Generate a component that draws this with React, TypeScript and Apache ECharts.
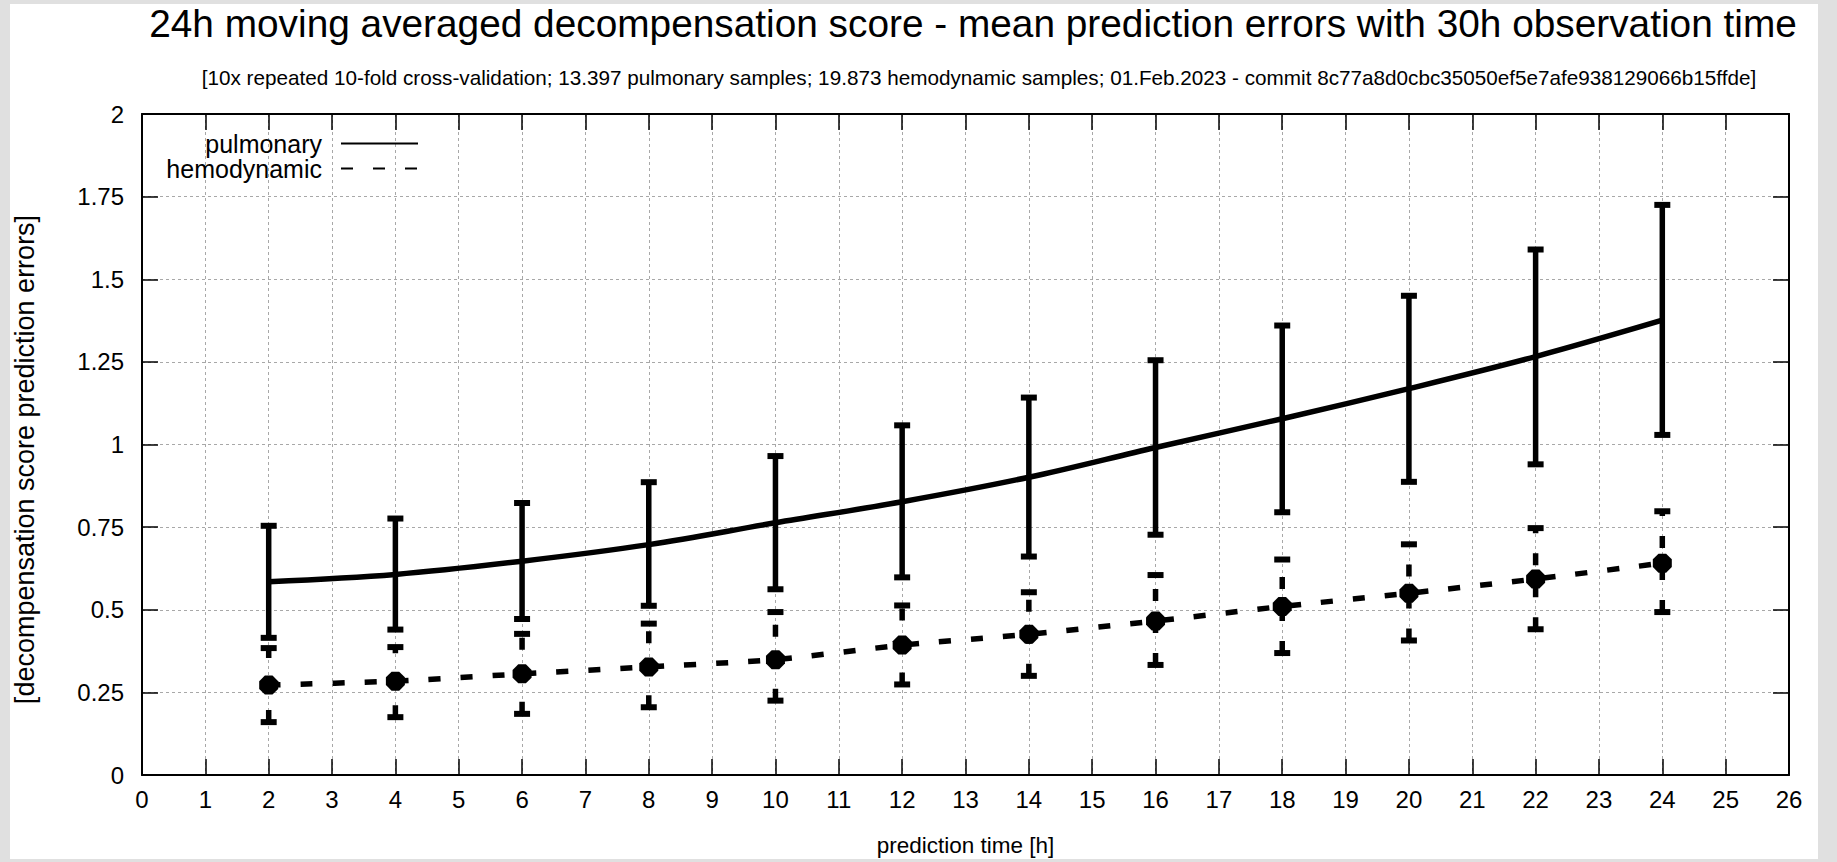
import React, { useEffect, useRef } from "react";
import * as echarts from "echarts";

const titleText =
  "24h moving averaged decompensation score - mean prediction errors with 30h observation time";
const subtitleText =
  "[10x repeated 10-fold cross-validation; 13.397 pulmonary samples; 19.873 hemodynamic samples; 01.Feb.2023 - commit 8c77a8d0cbc35050ef5e7afe938129066b15ffde]";
const xAxisName = "prediction time [h]";
const yAxisName = "[decompensation score prediction errors]";
const seriesNames = ["pulmonary", "hemodynamic"];

const hours = [2, 4, 6, 8, 10, 12, 14, 16, 18, 20, 22, 24];
const pulmonaryMean = [0.585, 0.607, 0.647, 0.697, 0.763, 0.827, 0.901, 0.991, 1.078, 1.169, 1.266, 1.376];
const pulmonaryLow = [0.415, 0.44, 0.472, 0.512, 0.562, 0.598, 0.661, 0.727, 0.795, 0.887, 0.94, 1.029];
const pulmonaryHigh = [0.754, 0.776, 0.823, 0.886, 0.965, 1.058, 1.142, 1.255, 1.36, 1.45, 1.59, 1.725];
const hemoMean = [0.272, 0.284, 0.306, 0.327, 0.349, 0.393, 0.426, 0.466, 0.51, 0.55, 0.593, 0.641];
const hemoLow = [0.16, 0.175, 0.185, 0.205, 0.225, 0.274, 0.3, 0.333, 0.369, 0.407, 0.441, 0.493];
const hemoHigh = [0.384, 0.387, 0.427, 0.458, 0.493, 0.513, 0.553, 0.605, 0.652, 0.698, 0.747, 0.798];

const FONT = "'Liberation Sans', Arial, Helvetica, sans-serif";
const DASH = [12, 20];

function errorBars(dashed: boolean) {
  return (params: any, api: any) => {
    const x = api.value(0);
    const lo = api.coord([x, api.value(1)]);
    const hi = api.coord([x, api.value(2)]);
    const hw = 8;
    const capStyle = { stroke: "#000", lineWidth: 6, fill: null };
    return {
      type: "group",
      children: [
        {
          type: "line",
          shape: { x1: lo[0], y1: lo[1], x2: hi[0], y2: hi[1] },
          style: { stroke: "#000", lineWidth: 5.5, fill: null, lineDash: dashed ? DASH : null },
        },
        { type: "line", shape: { x1: lo[0] - hw, y1: lo[1], x2: lo[0] + hw, y2: lo[1] }, style: capStyle },
        { type: "line", shape: { x1: hi[0] - hw, y1: hi[1], x2: hi[0] + hw, y2: hi[1] }, style: capStyle },
      ],
    };
  };
}

export default function App() {
  const ref = useRef<HTMLDivElement>(null);
  useEffect(() => {
    if (!ref.current) return;
    const chart = echarts.init(ref.current, null, { renderer: "svg" });
    const gridLine = { show: true, lineStyle: { color: "#a8a8a8", width: 1, type: [3, 3] } };
    const axisLine = { show: true, onZero: false, lineStyle: { color: "#000", width: 2 } };
    const tick = { show: true, inside: true, length: 16, lineStyle: { color: "#000", width: 1.5 } };
    chart.setOption({
      animation: false,
      backgroundColor: "#ffffff",
      textStyle: { fontFamily: FONT },
      grid: { left: 142, right: 48, top: 114, bottom: 78, containLabel: false },
      graphic: [
        { type: "rect", shape: { x: 0, y: 0, width: 10, height: 862 }, style: { fill: "#e0e0e0" }, silent: true },
        { type: "rect", shape: { x: 1818, y: 0, width: 19, height: 862 }, style: { fill: "#e0e0e0" }, silent: true },
        { type: "rect", shape: { x: 0, y: 0, width: 1837, height: 4 }, style: { fill: "#e0e0e0" }, silent: true },
        { type: "rect", shape: { x: 0, y: 859, width: 1837, height: 3 }, style: { fill: "#e0e0e0" }, silent: true },
        {
          type: "text",
          x: 973,
          y: 23,
          style: { text: titleText, fontFamily: FONT, fontSize: 38.8, fill: "#000", align: "center", verticalAlign: "middle" },
        },
        {
          type: "text",
          x: 979,
          y: 77,
          style: { text: subtitleText, fontFamily: FONT, fontSize: 20.7, fill: "#000", align: "center", verticalAlign: "middle" },
        },
      ],
      legend: {
        data: seriesNames,
        orient: "vertical",
        align: "right",
        right: 1837 - 419,
        top: 131,
        padding: 0,
        itemGap: 0,
        itemWidth: 77,
        itemHeight: 6,
        itemStyle: { opacity: 0 },
        textStyle: { fontFamily: FONT, fontSize: 25, color: "#000", padding: [0, 14, 0, 0] },
        selectedMode: false,
      },
      xAxis: [
        {
          type: "value",
          min: 0,
          max: 26,
          interval: 1,
          position: "bottom",
          name: xAxisName,
          nameLocation: "middle",
          nameGap: 59,
          nameTextStyle: { fontFamily: FONT, fontSize: 22.5, color: "#000" },
          axisLine,
          axisTick: tick,
          axisLabel: { fontFamily: FONT, fontSize: 24, color: "#000", margin: 12 },
          splitLine: gridLine,
        },
        {
          type: "value",
          min: 0,
          max: 26,
          interval: 1,
          position: "top",
          axisLine,
          axisTick: tick,
          axisLabel: { show: false },
          splitLine: { show: false },
        },
      ],
      yAxis: [
        {
          type: "value",
          min: 0,
          max: 2,
          interval: 0.25,
          position: "left",
          name: yAxisName,
          nameLocation: "middle",
          nameGap: 104,
          nameTextStyle: { fontFamily: FONT, fontSize: 27, color: "#000", padding: [0, 30, 0, 0] },
          axisLine,
          axisTick: tick,
          axisLabel: { fontFamily: FONT, fontSize: 24, color: "#000", margin: 18 },
          splitLine: gridLine,
        },
        {
          type: "value",
          min: 0,
          max: 2,
          interval: 0.25,
          position: "right",
          axisLine,
          axisTick: tick,
          axisLabel: { show: false },
          splitLine: { show: false },
        },
      ],
      series: [
        {
          name: seriesNames[0],
          type: "line",
          data: hours.map((h, i) => [h, pulmonaryMean[i]]),
          symbol: "none",
          smooth: 0.35,
          lineStyle: { color: "#000", width: 5.5 },
          itemStyle: { color: "#000" },
          z: 3,
        },
        {
          name: seriesNames[1],
          type: "line",
          data: hours.map((h, i) => [h, hemoMean[i]]),
          symbol: "path://M3,0 L7,0 L10,3 L10,7 L7,10 L3,10 L0,7 L0,3 Z",
          symbolSize: 19,
          smooth: 0.2,
          lineStyle: { color: "#000", width: 5.5, type: DASH },
          itemStyle: { color: "#000" },
          z: 3,
        },
        {
          name: "pulmonary-err",
          type: "custom",
          data: hours.map((h, i) => [h, pulmonaryLow[i], pulmonaryHigh[i]]),
          renderItem: errorBars(false),
          encode: { x: 0, y: [1, 2] },
          z: 4,
        },
        {
          name: "hemodynamic-err",
          type: "custom",
          data: hours.map((h, i) => [h, hemoLow[i], hemoHigh[i]]),
          renderItem: errorBars(true),
          encode: { x: 0, y: [1, 2] },
          z: 4,
        },
      ],
    });
    return () => chart.dispose();
  }, []);
  return (
    <div
      ref={ref}
      style={{ position: "absolute", left: 0, top: 0, width: 1837, height: 862 }}
    />
  );
}
